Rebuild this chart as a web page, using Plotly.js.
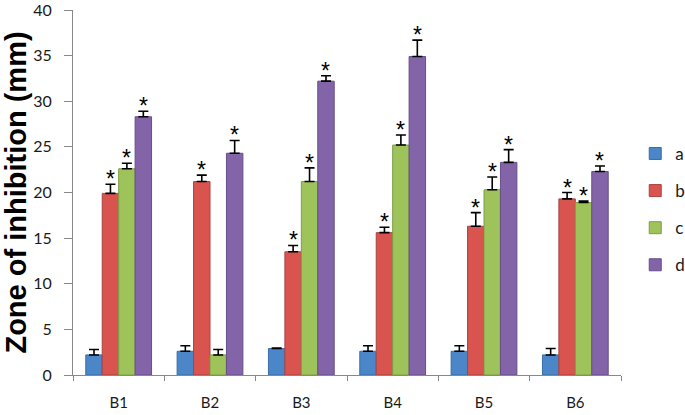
<!DOCTYPE html>
<html>
<head>
<meta charset="utf-8">
<script src="https://cdn.plot.ly/plotly-3.0.1.min.js"></script>
<style>
  body { margin: 0; background: #fff; }
  #plotArea { width: 685px; height: 415px; }
</style>
</head>
<body>
<div id="plotArea"></div>
<script>
var categories = ["B1", "B2", "B3", "B4", "B5", "B6"];

var valuesA = [2.2, 2.6, 2.9, 2.6, 2.6, 2.2];
var errA = [0.6, 0.6, 0.05, 0.6, 0.6, 0.7];
var valuesB = [19.9, 21.2, 13.5, 15.6, 16.3, 19.3];
var errB = [1.0, 0.7, 0.7, 0.6, 1.5, 0.7];
var valuesC = [22.6, 2.2, 21.2, 25.2, 20.3, 18.9];
var errC = [0.6, 0.6, 1.5, 1.1, 1.4, 0.15];
var valuesD = [28.3, 24.3, 32.2, 34.9, 23.3, 22.3];
var errD = [0.6, 1.4, 0.6, 1.8, 1.4, 0.6];

var sigA = ["", "", "", "", "", ""];
var sigB = ["*", "*", "*", "*", "*", "*"];
var sigC = ["*", "", "*", "*", "*", "*"];
var sigD = ["*", "*", "*", "*", "*", "*"];

var seriesNames = ["a", "b", "c", "d"];
var fills = ["#4A86C8", "#D9534F", "#9DC35A", "#8464A8"];
var edges = ["#3A6DA6", "#A94340", "#7E9E47", "#664E88"];

var values = [valuesA, valuesB, valuesC, valuesD];
var errs = [errA, errB, errC, errD];
var sigs = [sigA, sigB, sigC, sigD];

// plot area in px (for star offsets)
var margin = {l: 73, r: 64, t: 10, b: 40, autoexpand: false};
var plotW = 685 - margin.l - margin.r;
var bargap = 0.28;
var catW = plotW / categories.length;
var barW = catW * (1 - bargap) / 4;

var traces = values.map(function(v, i) {
    return {
        x: categories,
        y: v,
        name: seriesNames[i],
        legendgroup: seriesNames[i],
        type: "bar",
        marker: {color: fills[i], line: {color: edges[i], width: 1}},
        error_y: {
            type: "data",
            symmetric: false,
            array: errs[i],
            arrayminus: v.map(function() { return 0; }),
            color: "#000",
            thickness: 1.6,
            width: 5
        }
    };
});

var stars = [];
sigs.forEach(function(s, i) {
    s.forEach(function(t, j) {
        if (!t) return;
        stars.push({
            x: categories[j],
            y: values[i][j] + errs[i][j],
            text: t,
            showarrow: false,
            xanchor: "center",
            yanchor: "bottom",
            xshift: (i - 1.5) * barW,
            yshift: -10,
            font: {family: "Liberation Sans, Arial", size: 23, color: "#000"}
        });
    });
});

var layout = {
    width: 685,
    height: 415,
    margin: margin,
    paper_bgcolor: "#fff",
    plot_bgcolor: "#fff",
    barmode: "group",
    bargap: bargap,
    bargroupgap: 0,
    font: {family: "Lato, Liberation Sans, Arial", size: 14, color: "#1a1a1a"},
    xaxis: {
        showline: true,
        linecolor: "#888",
        linewidth: 1,
        ticks: "outside",
        tickson: "boundaries",
        ticklen: 5,
        tickcolor: "#888",
        tickfont: {size: 15},
        ticklabelstandoff: 14,
        showgrid: false
    },
    yaxis: {
        range: [0, 40],
        tickvals: [0, 5, 10, 15, 20, 25, 30, 35, 40],
        showline: true,
        linecolor: "#888",
        linewidth: 1,
        ticks: "outside",
        ticklen: 8,
        tickcolor: "#888",
        tickfont: {size: 16},
        ticklabelstandoff: 9,
        ticklabeloverflow: "allow",
        showgrid: false,
        zeroline: false,
        title: {
            text: "Zone of inhibition (mm)",
            font: {family: "Liberation Sans, Arial", size: 29, color: "#000", weight: "bold"},
            standoff: 3
        }
    },
    legend: {
        x: 1.026,
        y: 0.655,
        xanchor: "left",
        yanchor: "top",
        traceorder: "grouped",
        tracegroupgap: 12,
        font: {size: 17, color: "#1a1a1a"},
        bgcolor: "rgba(0,0,0,0)"
    },
    annotations: stars
};

Plotly.newPlot("plotArea", traces, layout, {displayModeBar: false, staticPlot: true});
</script>
</body>
</html>
